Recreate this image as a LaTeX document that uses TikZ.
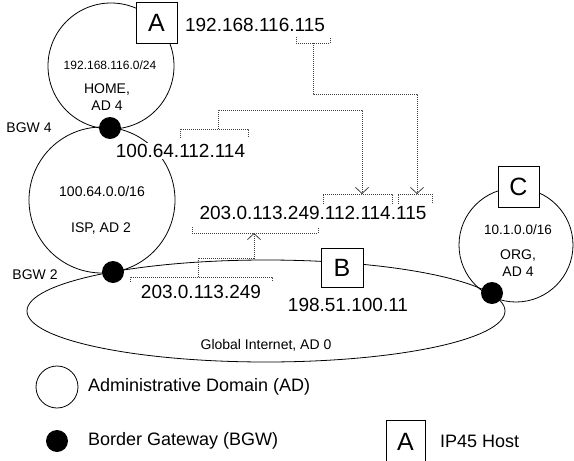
\documentclass[tikz,border=0pt]{standalone}
\usepackage{fontspec}
\setmainfont{Liberation Sans}
\usetikzlibrary{arrows.meta}
\begin{document}
\begin{tikzpicture}[x=1pt,y=-1pt,
  adom/.style={circle,draw,line width=0.8pt,inner sep=0pt},
  bgw/.style={circle,fill=black,inner sep=0pt,minimum size=22pt},
  host/.style={draw,fill=white,line width=0.8pt,inner sep=0pt,minimum width=41pt,minimum height=41pt,font=\fontsize{25}{25}\selectfont},
  ip/.style={font=\fontsize{19}{22}\selectfont,inner sep=1pt},
  lbl/.style={font=\fontsize{14}{17}\selectfont,align=center,inner sep=0pt},
  small/.style={font=\fontsize{12}{14}\selectfont,inner sep=0pt},
  leg/.style={font=\fontsize{18}{21}\selectfont,anchor=west,inner sep=0pt},
  brk/.style={draw=black!75,line width=0.8pt,dash pattern=on 1pt off 1pt},
  hop/.style={brk,-{Straight Barb[length=6pt,width=13pt,line width=0.8pt]}},
]
\useasboundingbox (0,0) rectangle (574,461);

% administrative domains
\node[adom,minimum size=126pt] (home) at (111,66) {};
\node[adom,minimum size=146pt] (isp) at (102,200) {};
\node[adom,minimum size=114pt] (org) at (516,245) {};
\draw[line width=0.8pt] (266,311) ellipse [x radius=239pt, y radius=51pt];
\coordinate (inet) at (266,311);

% domain labels
\node[small] (homenet) at (110,65) {192.168.116.0/24};
\node[lbl] (homename) at (107,97) {HOME,\\AD 4};
\node[lbl] (ispnet) at (102,191) {100.64.0.0/16};
\node[lbl] (ispname) at (101,229) {ISP, AD 2};
\node[lbl,font=\fontsize{13.5}{16}\selectfont] (orgnet) at (518,230) {10.1.0.0/16};
\node[lbl] (orgname) at (518,263) {ORG,\\AD 4};
\node[lbl] (inetname) at (266,345) {Global Internet, AD 0};

% border gateways
\node[bgw] (bgw4) at (110,128) {};
\node[bgw] (bgw2) at (113,272) {};
\node[bgw] (bgwo) at (492,293) {};
\node[lbl] (bgw4l) at (29,128) {BGW 4};
\node[lbl] (bgw2l) at (35,275) {BGW 2};

% hosts
\node[host] (hA) at (156.5,22.5) {A};
\node[host,minimum height=39pt,minimum width=42pt] (hB) at (342,267.5) {B};
\node[host] (hC) at (518.5,186.5) {C};

% addresses
\node[ip] (addrA) at (255,25) {192.168.116.115};
\node[ip,fill=white] (addrI) at (180.5,151) {100.64.112.114};
\node[ip] (addrX) at (313,213) {203.0.113.249.112.114.115};
\node[ip] (addrG) at (201,292) {203.0.113.249};
\node[ip] (addrB) at (348,305) {198.51.100.11};

% brackets
\coordinate (b1M) at (313,43);
\draw[brk] (296,37) -- (296,43) -- (330,43) -- (330,37);
\coordinate (b2M) at (417,194);
\draw[brk] (398,204) -- (398,194) -- (432,194) -- (432,204);
\coordinate (b3M) at (218,129);
\draw[brk] (180,138) -- (180,129) -- (248,129) -- (248,138);
\coordinate (b4M) at (362,194);
\draw[brk] (323,204) -- (323,194) -- (392,194) -- (392,204);
\coordinate (b5M) at (254,233);
\draw[brk] (192,227) -- (192,233) -- (318,233) -- (318,227);
\coordinate (b6M) at (198,277);
\draw[brk] (130,282) -- (130,277) -- (272,277) -- (272,282);

% address composition arrows
\coordinate (j1) at (417,94);
\coordinate (j3) at (362,110);
\coordinate (j5) at (254,258);
\draw[hop] (b1M) |- (j1) -- (b2M);
\draw[hop] (b3M) |- (j3) -- (b4M);
\draw[hop] (b6M) |- (j5) -- (b5M);

% legend
\node[adom,minimum size=42pt] (legdom) at (57,387) {};
\node[leg] (legdomt) at (88,387) {Administrative Domain (AD)};
\node[bgw] (leggw) at (57,441) {};
\node[leg] (leggwt) at (88,441) {Border Gateway (BGW)};
\node[host,minimum width=39pt,minimum height=42pt] (leghost) at (405.5,441.5) {A};
\node[leg] (leghostt) at (440,441) {IP45 Host};
\end{tikzpicture}
\end{document}
